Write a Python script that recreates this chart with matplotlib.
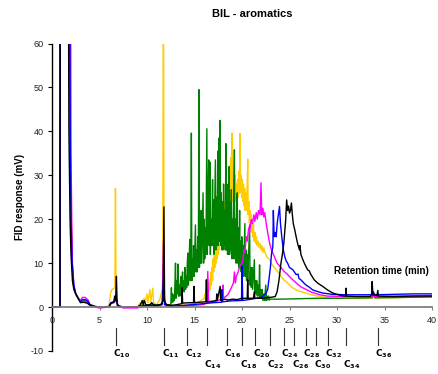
import matplotlib
matplotlib.use("Agg")
import matplotlib.pyplot as plt

plt.rcParams['font.family'] = ['Liberation Sans', 'DejaVu Sans']
plt.rcParams['axes.unicode_minus'] = False

# ---------------- data: (time min, response mV) ----------------
green_pts = [
    (0, 0), (0.84, 0), (0.86, 80), (1.85, 80), (1.92, 40), (2.0, 22), (2.1, 12), (2.2, 6), (2.35, 4), (2.5, 3),
    (2.8, 1.8), (3.1, 1.2), (3.4, 1.5), (3.7, 1.2), (4.0, 0.6), (4.5, 0.2), (5.0, 0), (6.0, 0), (6.2, 0.8),
    (6.5, 1.2), (6.7, 2.5), (6.78, 1.5), (6.9, 0.3), (7.2, 0), (8, 0), (9, 0), (9.5, 0.3), (10, 0.5),
    (10.5, 0.6), (11, 0.5), (11.5, 0.6), (11.7, 1.5), (11.78, 3), (11.9, 0.8), (12.2, 0.5),
    (12.50, 0.5), (12.57, 4.4), (12.62, 1.0), (12.70, 3.0), (12.76, 1.2), (12.82, 2.5), (12.88, 1.5),
    (12.95, 6), (13.00, 10), (13.05, 2), (13.12, 6), (13.18, 3), (13.27, 9.8), (13.32, 2.5), (13.40, 5),
    (13.46, 2.5), (13.52, 6), (13.60, 7), (13.66, 3), (13.74, 8), (13.80, 3.5), (13.86, 6), (13.92, 3.5),
    (14.00, 9), (14.06, 4), (14.12, 7), (14.18, 4.5), (14.24, 10), (14.30, 12.3), (14.36, 5), (14.42, 9),
    (14.50, 15.4), (14.56, 6), (14.62, 12), (14.67, 39.6), (14.72, 6), (14.78, 11), (14.84, 7), (14.90, 14),
    (14.96, 7), (15.02, 12), (15.10, 18.7), (15.16, 8), (15.22, 13), (15.28, 8), (15.34, 16), (15.40, 9),
    (15.47, 49.5), (15.52, 9), (15.58, 15), (15.64, 10), (15.70, 22), (15.76, 10), (15.82, 17), (15.90, 26),
    (15.96, 10), (16.02, 20), (16.08, 11), (16.14, 18), (16.20, 12), (16.30, 40.6), (16.35, 12), (16.42, 24),
    (16.50, 33.5), (16.55, 14), (16.62, 33), (16.67, 12), (16.74, 20), (16.80, 14), (16.86, 22), (16.90, 29),
    (16.95, 14), (17.00, 24.4), (17.05, 12), (17.12, 22), (17.20, 33.5), (17.25, 13), (17.32, 25), (17.38, 14),
    (17.45, 35.5), (17.50, 14), (17.55, 28), (17.60, 38.5), (17.64, 15), (17.70, 42.5), (17.75, 14),
    (17.82, 26), (17.88, 13), (17.94, 24), (18.00, 13), (18.06, 28), (18.12, 14), (18.18, 22), (18.24, 13),
    (18.30, 37.2), (18.35, 13), (18.42, 25), (18.48, 12), (18.54, 28), (18.60, 12), (18.65, 32), (18.70, 12),
    (18.76, 24), (18.82, 13), (18.88, 26.7), (18.94, 11), (19.00, 20), (19.06, 11), (19.12, 24), (19.20, 35.8),
    (19.25, 11), (19.32, 20), (19.38, 10), (19.44, 22), (19.50, 26), (19.55, 10), (19.62, 18), (19.68, 9),
    (19.75, 22), (19.80, 9), (19.86, 15), (19.92, 8), (19.98, 16), (20.04, 8), (20.10, 14), (20.16, 7),
    (20.22, 12), (20.30, 19), (20.35, 7), (20.42, 13), (20.48, 6), (20.55, 12), (20.60, 6), (20.66, 10),
    (20.72, 14), (20.80, 18.7), (20.85, 5), (20.92, 9), (20.98, 4.5), (21.05, 9), (21.12, 4), (21.20, 7),
    (21.30, 10.8), (21.35, 3), (21.42, 6), (21.48, 3), (21.55, 6), (21.62, 2.5), (21.70, 5), (21.78, 2.5),
    (21.85, 9.6), (21.90, 2), (21.98, 4), (22.05, 2), (22.12, 4), (22.20, 1.5), (22.30, 3), (22.38, 1.5),
    (22.50, 5), (22.56, 1.5), (22.64, 2.5), (22.72, 1.6), (22.80, 2.5), (22.88, 1.6), (23.00, 1.8),
    (24, 1.8), (26, 1.9), (28, 2.0), (30, 2.0), (33.7, 2.1), (33.8, 3.0), (34, 2.1), (37, 2.2), (40, 2.3),
]

yellow_pts = [
    (0, 0), (0.84, 0), (0.86, 80), (1.85, 80), (1.93, 40), (2.0, 22), (2.1, 12), (2.2, 6), (2.35, 4), (2.5, 3),
    (2.8, 1.8), (3.1, 1.2), (3.4, 1.4), (3.7, 1.1), (4.0, 0.5), (4.5, 0.2), (5.0, 0), (6.0, 0.2), (6.15, 3),
    (6.3, 4), (6.5, 4.2), (6.62, 4.5), (6.68, 27), (6.74, 4), (6.85, 0.5), (7.2, 0), (9.0, 0), (9.3, 1),
    (9.5, 0.5), (9.7, 2), (9.8, 0.8), (10.0, 3), (10.1, 1), (10.3, 4), (10.4, 1.2), (10.6, 4.3), (10.7, 1),
    (11.0, 0.5), (11.3, 1.5), (11.5, 3), (11.65, 4), (11.73, 80), (11.8, 3), (11.95, 0.5), (12.5, 0.3),
    (14, 0.5), (15, 0.8), (15.5, 1.2),
    (16.00, 2), (16.10, 3), (16.16, 1.5), (16.22, 4), (16.28, 2), (16.35, 5), (16.40, 3), (16.46, 5.5),
    (16.52, 3.5), (16.60, 6.2), (16.66, 4), (16.72, 8), (16.78, 5), (16.84, 9), (16.90, 6), (16.96, 11),
    (17.02, 8), (17.08, 12), (17.14, 9), (17.20, 14), (17.26, 10), (17.32, 15), (17.38, 11), (17.44, 16),
    (17.50, 12), (17.56, 17.6), (17.62, 13), (17.68, 19), (17.74, 15), (17.80, 20), (17.86, 16), (17.92, 22),
    (17.98, 17), (18.04, 23), (18.10, 18), (18.16, 24), (18.22, 19), (18.28, 25), (18.34, 20), (18.40, 24),
    (18.46, 21), (18.52, 26), (18.58, 22), (18.64, 27), (18.70, 23), (18.80, 34), (18.86, 23), (18.95, 39.6),
    (19.00, 24), (19.06, 28), (19.12, 24), (19.18, 29), (19.24, 24), (19.30, 30), (19.36, 25), (19.42, 28),
    (19.48, 25), (19.54, 29), (19.60, 25), (19.66, 31), (19.72, 26), (19.80, 39.5), (19.85, 26), (19.92, 30),
    (19.98, 25), (20.04, 29), (20.10, 24), (20.16, 28), (20.22, 23), (20.28, 27), (20.34, 22), (20.40, 26),
    (20.46, 22), (20.52, 25), (20.60, 33.7), (20.65, 21), (20.72, 24), (20.78, 19), (20.84, 22), (20.90, 18),
    (20.96, 21), (21.02, 17), (21.08, 20), (21.14, 16), (21.20, 19), (21.28, 15), (21.36, 17), (21.44, 14.5),
    (21.52, 16), (21.60, 14), (21.70, 15), (21.80, 13.5), (21.90, 14.5), (22.00, 13), (22.10, 14),
    (22.20, 12.5), (22.30, 13.5), (22.40, 12.5), (22.60, 11.5), (22.90, 10.8), (23.2, 9.5), (23.6, 8.5),
    (24.1, 7), (24.4, 6.2), (24.8, 5.5), (25.2, 4.6), (25.7, 3.9), (26.2, 3.5), (26.75, 3.2), (27.3, 2.8),
    (27.8, 2.6), (28.5, 2.3), (29.5, 2.1), (31, 2.0), (33.7, 2.1), (33.8, 3.5), (33.9, 2.1), (35, 2.1),
    (37, 2.2), (40, 2.4),
]

magenta_pts = [
    (0, 0), (0.84, 0), (0.86, 80), (1.95, 80), (2.0, 35), (2.08, 20), (2.15, 10), (2.3, 5), (2.5, 3), (2.8, 2),
    (3.0, 1.5), (3.2, 2.2), (3.5, 2.2), (3.8, 1.6), (4.0, 0.5), (4.5, 0), (5, -0.2), (6, 0), (6.2, 0.8),
    (6.6, 1.2), (6.75, 2), (6.9, 0.3), (7.5, -0.2), (9, -0.2), (9.5, 0.2), (10, 0.3), (11, 0.2), (11.6, 0.5),
    (11.73, 15), (11.85, 0.5), (12.5, 0), (14, 0.2), (15, 0.4), (16, 0.6), (16.3, 1), (16.4, 8.1),
    (16.48, 1), (17, 1.2), (17.5, 1.5), (17.9, 1.8), (18.0, 5), (18.05, 2), (18.5, 2.8), (18.7, 3.6),
    (18.9, 4.5), (19.1, 5.5), (19.2, 8), (19.3, 5.5), (19.4, 7), (19.6, 8), (19.8, 9.5), (20.0, 10),
    (20.1, 10.8), (20.2, 13), (20.3, 12.5), (20.45, 16), (20.55, 15), (20.7, 18), (20.8, 17), (20.97, 19.9),
    (21.1, 19), (21.25, 21), (21.35, 19.5), (21.5, 21.5), (21.6, 20), (21.75, 22), (21.9, 21), (22.0, 28.3),
    (22.08, 21), (22.2, 22.5), (22.3, 20.5), (22.4, 21.5), (22.55, 19), (22.7, 17), (22.9, 14.6),
    (23.1, 13), (23.4, 11.5), (23.7, 10), (24.1, 9), (24.4, 8.2), (24.8, 7.4), (25.2, 6.5), (25.7, 5.5),
    (26.2, 4.6), (26.75, 4.0), (27.3, 3.4), (28.2, 2.8), (29, 2.5), (31, 2.4), (34, 2.4), (37, 2.5), (40, 2.6),
]

blue_pts = [
    (0, 0), (0.84, 0), (0.86, 80), (1.85, 80), (1.93, 35), (2.02, 18), (2.12, 10), (2.3, 5), (2.5, 3),
    (2.8, 1.8), (3.0, 1.2), (3.2, 1.7), (3.5, 1.7), (3.8, 1.3), (4.0, 0.5), (4.5, 0.1), (5, 0), (6, 0),
    (6.2, 1), (6.6, 1.3), (6.75, 2.5), (6.9, 0.4), (7.5, 0), (9, 0), (9.5, 0.3), (10, 0.4), (11, 0.3),
    (11.6, 0.7), (11.73, 6), (11.85, 0.6), (12.5, 0.2), (14, 0.4), (15, 0.6), (16, 0.8), (17, 1),
    (17.85, 1.1), (17.9, 4), (17.95, 1.2), (18.8, 1.4), (19.95, 1.5), (20.0, 9.3), (20.08, 1.5), (21, 1.8),
    (21.5, 2), (22, 2.2), (22.5, 3), (22.7, 4), (22.85, 6.5), (23.0, 9.3), (23.1, 12), (23.25, 13.8),
    (23.3, 22), (23.38, 16), (23.5, 17), (23.6, 16), (23.7, 19), (23.8, 20.6), (23.95, 22.9), (24.05, 19),
    (24.2, 15.7), (24.35, 13), (24.5, 11.5), (24.65, 10.5), (24.8, 10), (25.0, 9), (25.35, 8.5), (25.7, 7.4),
    (25.9, 7.5), (26.0, 6.5), (26.2, 6.2), (26.5, 5.5), (26.75, 5), (27.1, 4.5), (27.45, 3.9), (28, 3.5),
    (28.5, 3.2), (29.5, 2.9), (31, 2.8), (33.7, 2.8), (33.8, 3.5), (34, 2.8), (36, 2.9), (38, 3.0), (40, 3.0),
]

black_pts = [
    (0, 0), (0.84, 0), (0.86, 80), (1.72, 80), (1.78, 40), (1.9, 20), (2.0, 12), (2.15, 6), (2.3, 4), (2.5, 3),
    (2.8, 1.8), (3.0, 1.0), (3.3, 1.1), (3.7, 0.9), (4.0, 0.4), (4.5, 0.1), (5, 0), (6, 0), (6.1, 0.6),
    (6.3, 1), (6.5, 1), (6.6, 2.5), (6.7, 1.5), (6.78, 7), (6.85, 1), (7, 0.2), (7.5, 0), (9, 0), (9.3, 0.5),
    (9.5, 1.5), (9.6, 0.5), (9.7, 1.5), (9.9, 0.4), (10.3, 0.5), (10.5, 1), (10.7, 0.5), (11, 0.4),
    (11.5, 0.6), (11.7, 1.5), (11.78, 22.8), (11.85, 1.5), (12, 0.6), (12.5, 0.4), (13, 0.5), (13.5, 0.7),
    (13.65, 0.8), (13.7, 4.4), (13.75, 0.9), (14.5, 1.0), (14.9, 1.0), (14.95, 4.7), (15.0, 1.0), (15.5, 1.1),
    (16.2, 1.2), (16.25, 6.2), (16.3, 1.2), (16.8, 1.3), (17.3, 1.5), (17.35, 3), (17.4, 1.5), (17.7, 4.7),
    (17.75, 1.5), (18.2, 1.8), (18.5, 1.6), (19, 1.8), (19.5, 1.7), (20, 2), (20.55, 2), (20.6, 6.2),
    (20.65, 2), (21.2, 2), (21.3, 3.5), (21.35, 2), (22, 2), (22.5, 2.1), (23, 2.2), (23.5, 2.4), (23.7, 3.5),
    (23.9, 6.2), (24.1, 10), (24.25, 12), (24.4, 14.5), (24.6, 19.9), (24.7, 24.4), (24.8, 22), (24.9, 23),
    (25.0, 21.4), (25.1, 22), (25.2, 23.7), (25.3, 21), (25.4, 19), (25.55, 17.6), (25.7, 16), (25.85, 14.5),
    (26.05, 13), (26.1, 14), (26.2, 12), (26.4, 10.8), (26.6, 9.8), (26.9, 8.5), (27.1, 8.2), (27.2, 7.6),
    (27.6, 6.2), (28.0, 5.4), (28.5, 4.7), (29, 3.9), (29.55, 3.2), (30, 2.9), (30.5, 2.6), (30.9, 2.5),
    (30.95, 4.3), (31.0, 2.5), (32, 2.4), (33.5, 2.4), (33.65, 3), (33.7, 5.8), (33.78, 2.8), (34.2, 2.6),
    (34.3, 3.8), (34.35, 2.5), (36, 2.4), (38, 2.5), (40, 2.5),
]

carbon_labels = ['10', '11', '12', '14', '16', '18', '20', '22', '24', '26', '28', '30', '32', '34', '36']
carbon_times = [6.7, 11.8, 14.25, 16.3, 18.4, 20.0, 21.4, 22.9, 24.4, 25.5, 26.7, 27.8, 29.0, 30.9, 34.3]
carbon_row = [0, 0, 0, 1, 0, 1, 0, 1, 0, 1, 0, 1, 0, 1, 0]

x_ticks = [0, 5, 10, 15, 20, 25, 30, 35, 40]
y_ticks = [-10, 0, 10, 20, 30, 40, 50, 60]

series = [
    (yellow_pts, '#FFCC00'),
    (green_pts, '#008000'),
    (magenta_pts, '#FF00FF'),
    (blue_pts, '#0000FF'),
    (black_pts, 'black'),
]

# ---------------- figure ----------------
fig = plt.figure(figsize=(4.38, 3.74), dpi=100)
ax = fig.add_axes([52 / 438, 1 - 351 / 374, 380 / 438, (351 - 43.5) / 374])

for pts, col in series:
    ts = [p[0] for p in pts]
    ys = [p[1] for p in pts]
    ax.plot(ts, ys, color=col, lw=1.0)

ax.set_xlim(0, 40)
ax.set_ylim(-10, 60)
ax.set_xticks(x_ticks)
ax.set_yticks(y_ticks)
ax.spines['top'].set_visible(False)
ax.spines['right'].set_visible(False)
ax.spines['bottom'].set_position(('data', 0))
ax.spines['bottom'].set_color('#808080')
ax.spines['bottom'].set_linewidth(1.3)
ax.spines['left'].set_linewidth(1.0)
ax.tick_params(axis='x', direction='out', length=2.5, pad=4, labelsize=6.5, color='#808080', labelcolor='#222222')
ax.tick_params(axis='y', direction='out', length=3, pad=3, labelsize=6.5, labelcolor='#222222')

ax.set_ylabel('FID response (mV)', fontsize=7, fontweight='bold')
ax.yaxis.set_label_coords(-0.07, 0.5)

ax.text(39.7, 8.1, 'Retention time (min)', ha='right', va='center', fontsize=7, fontweight='bold')
fig.text(252 / 438, 1 - 14 / 374, 'BIL - aromatics', ha='center', va='center', fontsize=8, fontweight='bold')

for lab, t, r in zip(carbon_labels, carbon_times, carbon_row):
    ax.plot([t, t], [-4.8, -8.6], color='#333333', lw=0.8, clip_on=False)
    yl = -10.7 if r == 0 else -13.2
    ax.text(t - 0.25, yl, r'$\mathbf{C_{' + lab + '}}$', ha='left', va='center', fontsize=6.5,
            clip_on=False)

fig.savefig('out.png', dpi=100)
